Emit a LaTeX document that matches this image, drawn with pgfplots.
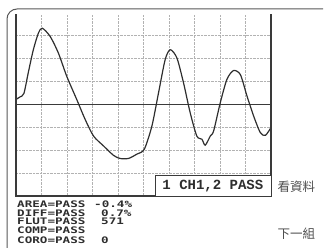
\documentclass[border=0pt]{standalone}
\usepackage{pgfplots}
\pgfplotsset{compat=1.18}
\usepackage{fontspec}
\newfontfamily\boxfont{Liberation Mono}
\newfontfamily\lowfont[FakeStretch=1.4]{DejaVu Sans Mono}
\newfontfamily\cjk{Noto Sans CJK TC}
\definecolor{ink}{HTML}{2E2E2E}
\definecolor{frame}{HTML}{3A3A3A}
\begin{document}
\begin{tikzpicture}[x=1pt,y=1pt]
\path[use as bounding box] (0,0) rectangle (326,247);
% outer rounded border
\draw[frame!85, line width=1pt, rounded corners=10pt] (7,-2) -- (7,238) -- (323,238);
\begin{axis}[at={(16pt,51pt)}, anchor=south west, scale only axis,
  width=255pt, height=182pt,
  xmin=0, xmax=10, ymin=-4, ymax=3.95,
  xtick={0,1,...,10}, ytick={-4,-3,...,3},
  xticklabels={}, yticklabels={},
  major tick length=0pt,
  grid=major, grid style={gray!60, densely dotted, line width=0.6pt},
  axis line style={draw=none},
  clip=false]
\addplot[frame, line width=1pt] coordinates {(0,0) (10,0)};
\addplot[ink, line width=1.2pt, smooth, tension=0.45] coordinates {
(0,0.22) (0.16,0.33) (0.31,0.48) (0.48,1.38) (0.68,2.39) (0.88,3.12) (1.03,3.33)
(1.34,2.97) (1.66,2.25) (1.99,1.23) (2.38,0.22) (2.71,-0.65) (3.04,-1.38)
(3.43,-1.81) (3.82,-2.22) (4.08,-2.36) (4.41,-2.36) (4.74,-2.17) (5.03,-1.96)
(5.33,-0.94) (5.59,0.51) (5.85,1.96) (6.05,2.39) (6.31,2.03) (6.57,0.94)
(6.83,-0.36) (7.09,-1.38) (7.29,-1.52) (7.42,-1.78) (7.62,-1.38) (7.75,-1.16)
(8.01,0.07) (8.27,1.09) (8.53,1.48) (8.80,1.30) (9.06,0.36) (9.32,-0.51)
(9.58,-1.23) (9.78,-1.35) (10,-1.01)};
\draw[frame, line width=1.1pt] (axis cs:0,3.95) -- (axis cs:0,-4) -- (axis cs:10,-4) -- (axis cs:10,3.95);
\draw[frame, line width=0.9pt, fill=white] (axis cs:5.45,-4) rectangle (axis cs:10,-3.1);
\node[ink, font=\boxfont\bfseries\fontsize{14}{14}\selectfont, anchor=center] at (axis cs:7.72,-3.55) {1 CH1,2 PASS};
\end{axis}
% lower status text
\begin{scope}[every node/.style={anchor=base west, inner sep=0pt, text=ink, font=\lowfont\bfseries\fontsize{9}{9}\selectfont}]
\node at (17,39.5) {AREA=PASS};
\node at (17,31) {DIFF=PASS};
\node at (17,22.5) {FLUT=PASS};
\node at (17,14) {COMP=PASS};
\node at (17,4) {CORO=PASS};
\node at (94,39.5) {-0.4\%};
\node at (101,31) {0.7\%};
\node at (101,22.5) {571};
\node at (101,4) {0};
\end{scope}
\node[anchor=west, inner sep=0pt, text=black!70, font=\cjk\fontsize{12.5}{12.5}\selectfont] at (277.5,60) {看資料};
\node[anchor=west, inner sep=0pt, text=black!70, font=\cjk\fontsize{12.5}{12.5}\selectfont] at (277.5,13) {下一組};
\end{tikzpicture}
\end{document}
